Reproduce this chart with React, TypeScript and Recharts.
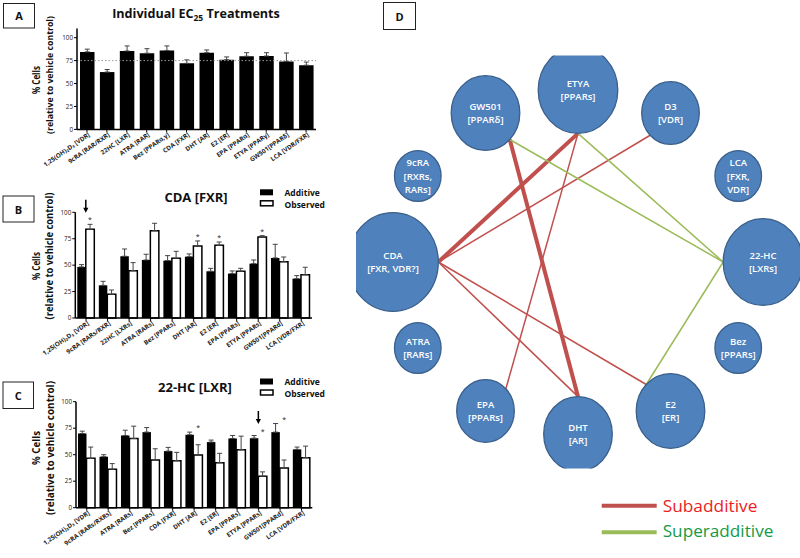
import React from 'react';
import {
  BarChart, Bar, XAxis, YAxis, ErrorBar, ReferenceLine, LabelList,
  ScatterChart, Scatter,
} from 'recharts';

const FONT = "'Open Sans', 'DejaVu Sans', sans-serif";

// ---------- Panel A: individual EC25 treatments ----------
const aLabels = ['1,25(OH)₂D₃ [VDR]', '9cRA [RAR/RXR]', '22HC [LXR]', 'ATRA [RAR]', 'Bez [PPARα,γ]', 'CDA [FXR]', 'DHT [AR]', 'E2 [ER]', 'EPA [PPARα]', 'ETYA [PPARγ]', 'GW501[PPARδ]', 'LCA [VDR/FXR]'];
const aValues = [84.5, 62.5, 85.5, 83, 86, 72, 83.6, 76, 79.8, 80, 74, 70];
const aErrors = [3, 2.8, 5.5, 5, 5, 3.8, 3, 3, 3.8, 3.6, 9.3, 3.4];
const aReference = 75;

// ---------- Panel B: CDA [FXR] ----------
const bLabels = ['1,25(OH)₂D₃ [VDR]', '9cRA [RARs/RXR]', '22HC [LXRs]', 'ATRA [RARs]', 'Bez [PPARs]', 'DHT [AR]', 'E2 [ER]', 'EPA [PPARs]', 'ETYA [PPARs]', 'GW501[PPARd]', 'LCA [VDR/FXR]'];
const bAdditive = [48.3, 30.9, 58.4, 54.9, 54.3, 58.0, 44.2, 42.0, 51.4, 56.8, 37.2];
const bAdditiveErr = [2.2, 3.8, 6.9, 5.4, 4.7, 2.6, 2.8, 2.5, 3.5, 12.9, 2.9];
const bObserved = [83.9, 22.4, 44.8, 82.6, 56.5, 68.1, 68.8, 44.2, 76.7, 53.3, 41.0];
const bObservedErr = [4.7, 4.1, 7.6, 7.0, 6.6, 4.8, 3.1, 2.8, 1.2, 4.4, 7.0];
const bSignificant = [true, false, false, false, false, true, true, false, true, false, false];
const bHighlighted = [true, false, false, false, false, false, false, false, false, false, false];

// ---------- Panel C: 22-HC [LXR] ----------
const cLabels = ['1,25(OH)₂D₃ [VDR]', '9cRA [RARs/RXRs]', 'ATRA [RARs]', 'Bez [PPARs]', 'CDA [FXR]', 'DHT [AR]', 'E2 [ER]', 'EPA [PPARs]', 'ETYA [PPARs]', 'GW501[PPARd]', 'LCA [VDR/FXR]'];
const cAdditive = [70, 48.1, 68.1, 71.3, 53.4, 68.8, 61.9, 65.3, 65.6, 71.3, 55];
const cAdditiveErr = [2.2, 1.9, 5.0, 4.3, 3.5, 2.5, 1.9, 2.8, 2.5, 8.1, 2.2];
const cObserved = [46.6, 36.3, 65.3, 45, 44.4, 49.7, 42.5, 54.7, 29.7, 37.5, 47.2];
const cObservedErr = [10.6, 5.3, 11.6, 10.6, 7.8, 9.7, 8.8, 12.8, 4.1, 7.5, 10.9];
const cSignificant = [false, false, false, false, false, true, false, false, true, true, false];
const cHighlighted = [false, false, false, false, false, false, false, false, true, false, false];

const yTicks = [0, 25, 50, 75, 100];

// ---------- Panel D: interaction network ----------
const nodeNames = ['ETYA', 'D3', 'LCA', '22-HC', 'Bez', 'E2', 'DHT', 'EPA', 'ATRA', 'CDA', '9cRA', 'GW501'];
const nodeReceptors = [['[PPARs]'], ['[VDR]'], ['[FXR,', 'VDR]'], ['[LXRs]'], ['[PPARs]'], ['[ER]'], ['[AR]'], ['[PPARs]'], ['[RARs]'], ['[FXR, VDR?]'], ['[RXRs,', 'RARs]'], ['[PPARδ]']];
const edgeFrom = ['CDA', 'CDA', 'CDA', 'CDA', 'GW501', 'ETYA', 'GW501', 'ETYA', '22-HC'];
const edgeTo = ['ETYA', 'D3', 'DHT', 'E2', 'DHT', 'EPA', '22-HC', '22-HC', 'E2'];
const edgeEffect = ['Subadditive', 'Subadditive', 'Subadditive', 'Subadditive', 'Subadditive', 'Subadditive', 'Superadditive', 'Superadditive', 'Superadditive'];
const edgeStrong = [true, false, false, false, true, false, false, false, false];
const effectNames = ['Subadditive', 'Superadditive'];

// ---------- styles ----------
const EFFECT_LINE: Record<string, string> = { Subadditive: '#c0504d', Superadditive: '#9bbb59' };
const EFFECT_TEXT: Record<string, string> = { Subadditive: '#ec1c24', Superadditive: '#129a45' };
const LAYOUT_RX = 185;
const LAYOUT_RY = 172;
const nodeRadius = (deg: number) => 23.3 + 5.5 * deg;

// ---------- derived tables ----------
const aData = aLabels.map((label, i) => ({ label, value: aValues[i], err: [0, aErrors[i]] }));
const makePair = (labels: string[], add: number[], addE: number[], obs: number[], obsE: number[], sig: boolean[], hl: boolean[]) =>
  labels.map((label, i) => ({
    label, add: add[i], addErr: [0, addE[i]], obs: obs[i], obsErr: [0, obsE[i]],
    addE: addE[i], obsE: obsE[i], sig: sig[i], hl: hl[i],
  }));
const bData = makePair(bLabels, bAdditive, bAdditiveErr, bObserved, bObservedErr, bSignificant, bHighlighted);
const cData = makePair(cLabels, cAdditive, cAdditiveErr, cObserved, cObservedErr, cSignificant, cHighlighted);

const degreeOf = (name: string) => edgeFrom.filter((n) => n === name).length + edgeTo.filter((n) => n === name).length;
const nodes = nodeNames.map((name, i) => {
  const ang = ((90 - 30 * i) * Math.PI) / 180;
  return {
    name, lines: [name, ...nodeReceptors[i]],
    x: LAYOUT_RX * Math.cos(ang), y: LAYOUT_RY * Math.sin(ang),
    angle: 90 - 30 * i, deg: degreeOf(name),
  };
});
const portOf = (name: string) => {
  const n = nodes.find((d) => d.name === name)!;
  const toward = (((n.angle + 180) % 360) + 360) % 360;
  const p = ((Math.round(toward / 45) * 45) * Math.PI) / 180;
  const rx = nodeRadius(n.deg);
  const ry = rx * 1.09;
  return { x: n.x + rx * Math.cos(p), y: n.y + ry * Math.sin(p) };
};
const edges = edgeFrom.map((f, i) => ({ a: portOf(f), b: portOf(edgeTo[i]), effect: edgeEffect[i], strong: edgeStrong[i] }));

// ---------- custom renderers ----------
const XTick = (props: any) => {
  const { x, y, payload } = props;
  return (
    <g transform={`translate(${x},${y})`}>
      <text x={2} y={3} transform="rotate(-35)" textAnchor="end" fontSize={6.3} fontWeight={700} fill="#222" fontFamily={FONT}>
        {payload.value}
      </text>
    </g>
  );
};

const geom = (props: any) => {
  const vb = props.viewBox || props;
  return { x: Number(vb.x), y: Number(vb.y), w: Number(vb.width), h: Number(vb.height) };
};

const groupTop = (props: any, row: any, isObs: boolean) => {
  const { x, y, w, h } = geom(props);
  const v = isObs ? row.obs : row.add;
  const k = h / v;
  const base = y + h;
  const top = base - Math.max(row.add + row.addE, row.obs + row.obsE) * k;
  return { x, y, w, h, top };
};

const makeStar = (data: any[]) => (props: any) => {
  const row = data[props.index];
  if (!row || !row.sig) return null;
  const { x, w, top } = groupTop(props, row, true);
  return (
    <text x={x + w / 2} y={top - 2} textAnchor="middle" fontSize={7} fill="#222" fontFamily={FONT}>*</text>
  );
};

const makeArrow = (data: any[]) => (props: any) => {
  const row = data[props.index];
  if (!row || !row.hl) return null;
  const { x, w, top } = groupTop(props, row, false);
  const cx = x + w;
  const tip = top - 11.5;
  return (
    <g>
      <line x1={cx} x2={cx} y1={tip - 13} y2={tip - 4} stroke="#000" strokeWidth={1.5} />
      <path d={`M${cx - 2.6},${tip - 5} L${cx + 2.6},${tip - 5} L${cx},${tip} Z`} fill="#000" />
    </g>
  );
};

const NodeShape = (props: any) => {
  const { cx, cy, payload } = props;
  const rx = nodeRadius(payload.deg);
  const ry = rx * 1.09;
  const n = payload.lines.length;
  return (
    <g>
      <ellipse cx={cx} cy={cy} rx={rx} ry={ry} fill="#4f81bd" stroke="#3a5f8b" strokeWidth={1.3} />
      {payload.lines.map((t: string, i: number) => (
        <text key={i} x={cx} y={cy + (i - (n - 1) / 2) * 13.3} textAnchor="middle" dominantBaseline="central"
          fontSize={9.5} fontWeight={600} fill="#fff" fontFamily={FONT}>{t}</text>
      ))}
    </g>
  );
};

const axisLine = { stroke: '#000', strokeWidth: 1.5 };
const tickLine = { stroke: '#000', strokeWidth: 1 };
const yTick = { fontSize: 6.3, fill: '#222', fontFamily: FONT };

const PairChart = ({ data, top, plotTop, yWidth, right, xHeight }: any) => (
  <div style={{ position: 'absolute', left: 0, top }}>
    <BarChart width={330} height={190} data={data} margin={{ top: plotTop, right, bottom: 0, left: 0 }} barSize={8.5} barGap={0}>
      <XAxis dataKey="label" height={xHeight} interval={0} tick={<XTick />} axisLine={axisLine} tickLine={tickLine} tickSize={3} />
      <YAxis width={yWidth} domain={[0, 100]} ticks={yTicks} tick={yTick} axisLine={axisLine} tickLine={tickLine} tickSize={3} tickMargin={1} />
      <Bar dataKey="add" fill="#000" isAnimationActive={false}>
        <ErrorBar dataKey="addErr" width={2.5} stroke="#444" strokeWidth={1} direction="y" />
        <LabelList content={makeArrow(data)} />
      </Bar>
      <Bar dataKey="obs" fill="#fff" stroke="#000" strokeWidth={1.5} isAnimationActive={false}>
        <ErrorBar dataKey="obsErr" width={2.5} stroke="#444" strokeWidth={1} direction="y" />
        <LabelList content={makeStar(data)} />
      </Bar>
    </BarChart>
  </div>
);

const RotLabel = ({ x, cy, len, children, size = 11 }: any) => (
  <text transform={`translate(${x},${cy}) rotate(-90)`} textAnchor="middle" dominantBaseline="central"
    fontSize={size} fontWeight={700} fill="#111" textLength={len} lengthAdjust="spacingAndGlyphs">{children}</text>
);

const PanelBox = ({ x, y, w, h, letter }: any) => (
  <g>
    <rect x={x} y={y} width={w} height={h} fill="#fff" stroke="#222" strokeWidth={1} />
    <text x={x + w / 2} y={y + h / 2} textAnchor="middle" dominantBaseline="central" fontSize={11} fontWeight={700} fill="#111">{letter}</text>
  </g>
);

const PairLegend = ({ y }: any) => (
  <g>
    <rect x={260} y={y - 3} width={13} height={6} fill="#000" />
    <rect x={260.5} y={y + 8.5} width={12.5} height={5} fill="#fff" stroke="#000" strokeWidth={1.5} />
    <text x={284.5} y={y} dominantBaseline="central" fontSize={8.5} fontWeight={700} fill="#111">Additive</text>
    <text x={284.5} y={y + 12} dominantBaseline="central" fontSize={8.5} fontWeight={700} fill="#111">Observed</text>
  </g>
);

export default function App() {
  return (
    <div style={{ position: 'absolute', left: 0, top: 0, width: 800, height: 558, background: '#fff', fontFamily: FONT }}>
      {/* Panel A */}
      <div style={{ position: 'absolute', left: 0, top: 0 }}>
        <BarChart width={330} height={190} data={aData} margin={{ top: 28.5, right: 14, bottom: 0, left: 0 }} barSize={14.5}>
          <ReferenceLine y={aReference} stroke="#9a9a9a" strokeDasharray="1.5 2" strokeWidth={1} />
          <XAxis dataKey="label" height={60.6} interval={0} tick={<XTick />} axisLine={axisLine} tickLine={tickLine} tickSize={3} />
          <YAxis width={77} domain={[0, 110]} ticks={yTicks} tick={yTick} axisLine={axisLine} tickLine={tickLine} tickSize={3} tickMargin={1} />
          <Bar dataKey="value" fill="#000" isAnimationActive={false}>
            <ErrorBar dataKey="err" width={2.5} stroke="#444" strokeWidth={1} direction="y" />
          </Bar>
        </BarChart>
      </div>

      <PairChart data={bData} top={180} plotTop={32.3} yWidth={75.3} right={18} xHeight={52} />
      <PairChart data={cData} top={370} plotTop={31.7} yWidth={76} right={17.7} xHeight={52.3} />

      {/* Panel D */}
      <div style={{ position: 'absolute', left: 330, top: 0 }}>
        <ScatterChart width={470} height={558} margin={{ top: 55.6, right: 0, bottom: 89.6, left: 26 }}>
          <XAxis type="number" dataKey="x" domain={[-222, 222]} allowDataOverflow hide />
          <YAxis type="number" dataKey="y" domain={[-206.4, 206.4]} allowDataOverflow hide />
          {edges.map((e, i) => (
            <ReferenceLine key={i} segment={[{ x: e.a.x, y: e.a.y }, { x: e.b.x, y: e.b.y }]}
              stroke={EFFECT_LINE[e.effect]} strokeWidth={e.strong ? 4 : 1.5} ifOverflow="visible" />
          ))}
          <Scatter data={nodes} shape={NodeShape} isAnimationActive={false} />
        </ScatterChart>
      </div>

      {/* Annotations */}
      <svg width={800} height={558} style={{ position: 'absolute', left: 0, top: 0, pointerEvents: 'none' }} fontFamily={FONT}>
        <PanelBox x={3.5} y={3.5} w={31} h={24.5} letter="A" />
        <PanelBox x={3} y={196} w={31} h={26} letter="B" />
        <PanelBox x={3} y={382} w={30.5} h={26.5} letter="C" />
        <PanelBox x={383.5} y={2.5} w={32} h={27} letter="D" />

        <text x={196} y={17.5} textAnchor="middle" fontSize={12.6} fontWeight={700} fill="#111">
          Individual EC<tspan fontSize={8.5} dy={3}>25</tspan><tspan dy={-3}> Treatments</tspan>
        </text>
        <text x={196} y={201.5} textAnchor="middle" fontSize={13} fontWeight={700} fill="#111">CDA [FXR]</text>
        <text x={195} y={391.5} textAnchor="middle" fontSize={13} fontWeight={700} fill="#111">22-HC [LXR]</text>

        <RotLabel x={35.5} cy={80} len={28}>% Cells</RotLabel>
        <RotLabel x={49.3} cy={75} len={118} size={9.5}>(relative to vehicle control)</RotLabel>
        <RotLabel x={35.8} cy={266} len={28}>% Cells</RotLabel>
        <RotLabel x={48.8} cy={256} len={127}>(relative to vehicle control)</RotLabel>
        <RotLabel x={35.5} cy={448} len={34}>% Cells</RotLabel>
        <RotLabel x={49} cy={448} len={134}>(relative to vehicle control)</RotLabel>

        <PairLegend y={192.3} />
        <PairLegend y={381.5} />

        {effectNames.map((name, i) => (
          <g key={name}>
            <line x1={601.7} x2={656.7} y1={505.7 + i * 26.6} y2={505.7 + i * 26.6} stroke={EFFECT_LINE[name]} strokeWidth={4} />
            <text x={662.7} y={512.3 + i * 24.2} fontSize={17} fill={EFFECT_TEXT[name]}
              textLength={i === 0 ? 94.7 : 110.7} lengthAdjust="spacingAndGlyphs">{name}</text>
          </g>
        ))}
      </svg>
    </div>
  );
}
